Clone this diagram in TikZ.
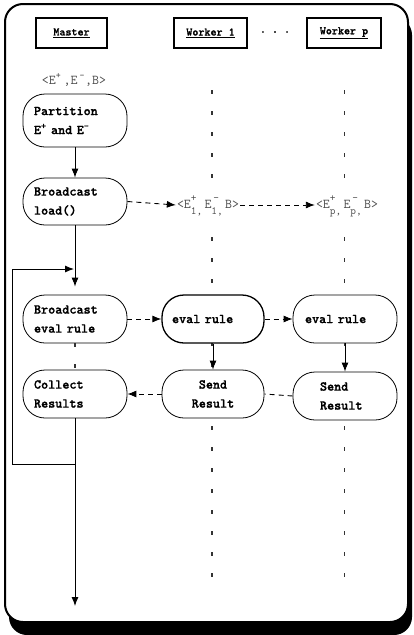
\documentclass[tikz,border=0pt]{standalone}
\usepackage{fontspec}
\usetikzlibrary{arrows.meta}
\newfontfamily\heavymono{lmmonolt10-bold.otf}[FakeBold=1.2]
% E with a stacked superscript and subscript
\newcommand\esub[2]{E\begin{tabular}[c]{@{}l@{}}\fontsize{11}{11}\selectfont#2\\[-1pt]\fontsize{11}{11}\selectfont#1\end{tabular}}
\begin{document}
\begin{tikzpicture}[x=1pt,y=-1pt,
  frame/.style={line width=2pt, rounded corners=18pt},
  head/.style={draw, line width=1.6pt, minimum height=30pt, inner sep=0pt,
    font=\heavymono\fontsize{11.5}{12}\selectfont},
  proc/.style={draw, fill=white, rounded corners=22pt, line width=0.8pt,
    minimum height=48pt, text width=82pt, inner xsep=11pt, inner ysep=2pt, align=left,
    font=\heavymono\fontsize{13.5}{19}\selectfont},
  lbl/.style={fill=white, inner sep=1pt, text=black!70,
    font=\ttfamily\fontsize{13.5}{14}\selectfont},
  arr/.style={line width=0.9pt, -{Latex[length=9pt,width=7pt]}},
  darr/.style={line width=0.9pt, dash pattern=on 5pt off 4pt, -{Latex[length=9pt,width=7pt]}},
  dline/.style={line width=0.9pt, dash pattern=on 5pt off 4pt},
  lifeline/.style={line width=1.3pt, black!80, dash pattern=on 4pt off 17pt}
]
\useasboundingbox (0,0) rectangle (413,635);

% framed panel with drop shadow
\fill[black, rounded corners=18pt] (9,17) rectangle (412,635);
\draw[frame, fill=white] (5,4) rectangle (408,622);

% column headers
\node[head, minimum width=71pt] (mh) at (71.5,33) {\underline{Master}};
\node[head, minimum width=73pt] (w1h) at (210.5,33) {\underline{Worker 1}};
\node[head, minimum width=74pt] (wph) at (344,33) {\underline{Worker p}};
\node[font=\heavymono\fontsize{11.5}{12}\selectfont] (dots) at (275,32) {.~.~.};

% worker lifelines
\coordinate (w1top) at (212,90);
\coordinate (w1bot) at (212,587);
\coordinate (wptop) at (344.5,90);
\coordinate (wpbot) at (344.5,581);
\draw[lifeline] (w1top) -- (w1bot);
\draw[lifeline] (wptop) -- (wpbot);

% data labels
\node[lbl] (d0) at (74,80) {<E\textsuperscript{+}\,,E\,\textsuperscript{-},B>};
\node[lbl] (d1) at (208,205) {<\esub{1,}{+}\,\esub{1,}{\,-}\,B>};
\node[lbl] (dp) at (347,205) {<\esub{p,}{+}\,\esub{p,}{\,-}\,B>};

% master steps
\node[proc, minimum height=53pt] (part) at (75,120.5) {Partition\\E\textsuperscript{+} and E\textsuperscript{-}};
\node[proc, minimum height=47pt] (bload) at (75,201.5) {Broadcast\\load()};
\node[proc] (beval) at (75,319) {Broadcast\\eval rule};
\node[proc] (collect) at (75,394) {Collect\\Results};

% worker steps
\node[proc, line width=1.3pt, text width=82pt, inner xsep=10pt] (e1) at (213,319) {eval rule};
\node[proc, text width=80pt, inner xsep=12pt] (ep) at (345,319) {eval rule};
\node[proc, text width=82pt, inner xsep=10pt, align=center] (s1) at (213,394) {Send\\Result};
\node[proc, text width=50pt, inner xsep=27pt] (sp) at (345,396) {Send\\Result};

% master flow
\coordinate (loopA) at (75,464);
\coordinate (loopL) at (12,464);
\coordinate (loopB) at (74,269);
\coordinate (mend) at (75,606);
\draw[arr] (part) -- (bload);
\draw[arr, shorten >=8pt] (bload) -- (beval);
\draw[lifeline] (beval.south) -- (collect.north);
\draw[arr] (collect.south) -- (mend);
\draw[arr] (loopA) -- (loopL) |- (loopB);

% messages
\draw[darr] (bload.east) -- (d1.west);
\draw[darr] (d1.east) -- (dp.west);
\draw[darr] (beval.east) -- (e1.west);
\draw[darr] (e1.east) -- (ep.west);
\draw[arr] (e1) -- (s1);
\draw[arr] (ep) -- (sp);
\draw[darr] (s1.west) -- (collect.east);
\draw[dline] (sp.west) -- (s1.east);
\end{tikzpicture}
\end{document}
